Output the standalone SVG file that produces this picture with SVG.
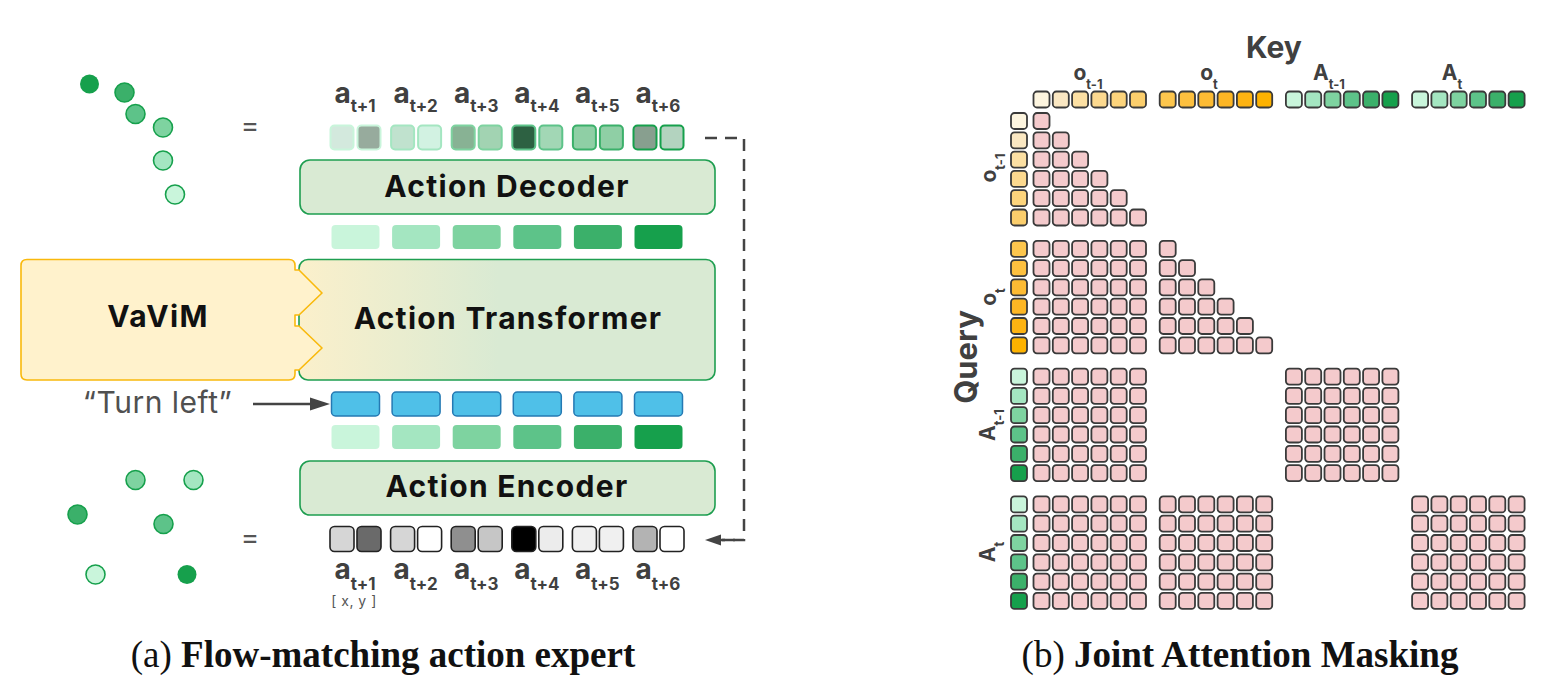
<svg xmlns="http://www.w3.org/2000/svg" width="1568" height="680" viewBox="0 0 1568 680">
<style>
.sans{font-family:Inter,"Noto Sans","Liberation Sans",sans-serif}
.ttl{font-family:Inter,"Noto Sans","Liberation Sans",sans-serif;font-weight:700;font-size:30px;letter-spacing:1.3px;fill:#111;text-anchor:middle}
.lbl{font-family:Inter,"Noto Sans","Liberation Sans",sans-serif;font-weight:700;fill:#404040;text-anchor:middle}
.cap{font-family:"Liberation Serif","Times New Roman",serif;font-size:37px;fill:#111;text-anchor:middle}
.gbox{fill:#d9ead3;stroke:#1e9e50;stroke-width:1.6}
.k{stroke:#3a3a3a;stroke-width:1.8}
.pk{fill:#f4cacc;stroke:#3a3a3a;stroke-width:1.8}
.bw{stroke:#222;stroke-width:1.6}
.dot{stroke:#16a04c;stroke-width:1.6}
.blue{fill:#4fc0e8;stroke:#2479b3;stroke-width:1.5}
</style>
<defs>
<linearGradient id="tg" x1="0" x2="1" y1="0" y2="0">
<stop offset="0" stop-color="#fbf0cb"/>
<stop offset="0.48" stop-color="#d9ead3"/>
</linearGradient>
<rect id="pc" class="pk" width="16" height="16" rx="3.5"/>
<g id="row6">
<use href="#pc" x="0"/><use href="#pc" x="19.3"/><use href="#pc" x="38.6"/><use href="#pc" x="57.9"/><use href="#pc" x="77.2"/><use href="#pc" x="96.5"/>
</g>
<g id="blk">
<use href="#row6" y="0"/><use href="#row6" y="19.3"/><use href="#row6" y="38.6"/><use href="#row6" y="57.9"/><use href="#row6" y="77.2"/><use href="#row6" y="96.5"/>
</g>
<g id="tri">
<use href="#pc" x="0" y="0"/>
<use href="#pc" x="0" y="19.3"/><use href="#pc" x="19.3" y="19.3"/>
<use href="#pc" x="0" y="38.6"/><use href="#pc" x="19.3" y="38.6"/><use href="#pc" x="38.6" y="38.6"/>
<use href="#pc" x="0" y="57.9"/><use href="#pc" x="19.3" y="57.9"/><use href="#pc" x="38.6" y="57.9"/><use href="#pc" x="57.9" y="57.9"/>
<use href="#pc" x="0" y="77.2"/><use href="#pc" x="19.3" y="77.2"/><use href="#pc" x="38.6" y="77.2"/><use href="#pc" x="57.9" y="77.2"/><use href="#pc" x="77.2" y="77.2"/>
<use href="#row6" y="96.5"/>
</g>
</defs>

<!-- ===== Panel (a) ===== -->
<g id="dots-top">
<circle cx="89.5" cy="84" r="9.5" fill="#16a04c"/>
<circle class="dot" cx="124.5" cy="92.5" r="9.5" fill="#3bb06a"/>
<circle class="dot" cx="135.5" cy="114" r="9.5" fill="#5dc389"/>
<circle class="dot" cx="163" cy="127.5" r="9.5" fill="#7ed3a0"/>
<circle class="dot" cx="163" cy="160.5" r="9.5" fill="#a4e6c1"/>
<circle class="dot" cx="175" cy="194.5" r="9.5" fill="#c9f5db"/>
</g>
<text class="sans" x="250" y="135" font-size="28" fill="#555" text-anchor="middle">=</text>

<g id="dots-bottom">
<circle class="dot" cx="135.5" cy="480" r="9.5" fill="#7ed3a0"/>
<circle class="dot" cx="193.5" cy="480" r="9.5" fill="#a4e6c1"/>
<circle class="dot" cx="77.5" cy="514.5" r="9.5" fill="#3bb06a"/>
<circle class="dot" cx="163.5" cy="524" r="9.5" fill="#5dc389"/>
<circle class="dot" cx="95.5" cy="574.5" r="9.5" fill="#c9f5db"/>
<circle cx="187" cy="574.5" r="9.5" fill="#16a04c"/>
</g>
<text class="sans" x="250" y="547" font-size="28" fill="#555" text-anchor="middle">=</text>

<g id="top-labels">
<text class="lbl" x="355" y="103" font-size="28">a<tspan dy="9" font-size="17">t+1</tspan></text>
<text class="lbl" x="415.6" y="103" font-size="28">a<tspan dy="9" font-size="17">t+2</tspan></text>
<text class="lbl" x="476.2" y="103" font-size="28">a<tspan dy="9" font-size="17">t+3</tspan></text>
<text class="lbl" x="536.8" y="103" font-size="28">a<tspan dy="9" font-size="17">t+4</tspan></text>
<text class="lbl" x="597.4" y="103" font-size="28">a<tspan dy="9" font-size="17">t+5</tspan></text>
<text class="lbl" x="658" y="103" font-size="28">a<tspan dy="9" font-size="17">t+6</tspan></text>
</g>

<g id="top-tokens" stroke-width="2">
<rect x="330.5" y="125.5" width="23" height="24" rx="4" fill="#d3e9dd" stroke="#c9f5db"/>
<rect x="357.5" y="125.5" width="23" height="24" rx="4" fill="#97ab9d" stroke="#c9f5db"/>
<rect x="391.1" y="125.5" width="23" height="24" rx="4" fill="#c0e2ce" stroke="#a4e6c1"/>
<rect x="418.1" y="125.5" width="23" height="24" rx="4" fill="#d2f2e2" stroke="#a4e6c1"/>
<rect x="451.7" y="125.5" width="23" height="24" rx="4" fill="#88b294" stroke="#7ed3a0"/>
<rect x="478.7" y="125.5" width="23" height="24" rx="4" fill="#a2d3b2" stroke="#7ed3a0"/>
<rect x="512.3" y="125.5" width="23" height="24" rx="4" fill="#2d6142" stroke="#5dc389"/>
<rect x="539.3" y="125.5" width="23" height="24" rx="4" fill="#a2d7b5" stroke="#5dc389"/>
<rect x="572.9" y="125.5" width="23" height="24" rx="4" fill="#8fcfa5" stroke="#3bb06a"/>
<rect x="599.9" y="125.5" width="23" height="24" rx="4" fill="#8fcfa5" stroke="#3bb06a"/>
<rect x="633.5" y="125.5" width="23" height="24" rx="4" fill="#889f8f" stroke="#16a04c"/>
<rect x="660.5" y="125.5" width="23" height="24" rx="4" fill="#b3d3bf" stroke="#16a04c"/>
</g>

<g id="action-decoder">
<rect class="gbox" x="300" y="160" width="415" height="54" rx="10"/>
<text class="ttl" x="507" y="197">Action Decoder</text>
</g>

<g id="mid-tokens-1">
<rect x="331.5" y="225" width="48" height="24" rx="4" fill="#c9f5db"/>
<rect x="392.1" y="225" width="48" height="24" rx="4" fill="#a4e6c1"/>
<rect x="452.7" y="225" width="48" height="24" rx="4" fill="#7ed3a0"/>
<rect x="513.3" y="225" width="48" height="24" rx="4" fill="#5dc389"/>
<rect x="573.9" y="225" width="48" height="24" rx="4" fill="#3bb06a"/>
<rect x="634.5" y="225" width="48" height="24" rx="4" fill="#16a04c"/>
</g>

<g id="action-transformer">
<rect x="299" y="259.5" width="416" height="120.5" rx="9" fill="url(#tg)" stroke="#1e9e50" stroke-width="1.6"/>
<text class="ttl" x="508" y="329">Action Transformer</text>
</g>

<g id="vavim">
<path d="M27,259.5 H289 Q295,259.5 295,265.5 V270 H299 L322,293 L299,315 H295 V326 H299 L322,348 L299,370 H295 V374 Q295,380 289,380 H27 Q21,380 21,374 V265.5 Q21,259.5 27,259.5 Z" fill="#fff2cc" stroke="#f9b90c" stroke-width="1.6" stroke-linejoin="round"/>
<text class="ttl" x="158" y="327">VaViM</text>
</g>

<g id="turn-left">
<text class="sans" x="157.5" y="413" font-size="30" fill="#505050" text-anchor="middle" letter-spacing="0.5">“Turn left”</text>
</g>

<g id="blue-tokens">
<rect class="blue" x="331.5" y="392" width="48" height="24" rx="4"/>
<rect class="blue" x="392.1" y="392" width="48" height="24" rx="4"/>
<rect class="blue" x="452.7" y="392" width="48" height="24" rx="4"/>
<rect class="blue" x="513.3" y="392" width="48" height="24" rx="4"/>
<rect class="blue" x="573.9" y="392" width="48" height="24" rx="4"/>
<rect class="blue" x="634.5" y="392" width="48" height="24" rx="4"/>
</g>

<g id="mid-tokens-2">
<rect x="331.5" y="425" width="48" height="24" rx="4" fill="#c9f5db"/>
<rect x="392.1" y="425" width="48" height="24" rx="4" fill="#a4e6c1"/>
<rect x="452.7" y="425" width="48" height="24" rx="4" fill="#7ed3a0"/>
<rect x="513.3" y="425" width="48" height="24" rx="4" fill="#5dc389"/>
<rect x="573.9" y="425" width="48" height="24" rx="4" fill="#3bb06a"/>
<rect x="634.5" y="425" width="48" height="24" rx="4" fill="#16a04c"/>
</g>

<g id="action-encoder">
<rect class="gbox" x="300" y="461" width="415" height="54" rx="10"/>
<text class="ttl" x="507" y="497">Action Encoder</text>
</g>

<g id="bottom-tokens">
<rect class="bw" x="330" y="526.5" width="24" height="25" rx="4.5" fill="#d6d6d6"/>
<rect class="bw" x="357" y="526.5" width="24" height="25" rx="4.5" fill="#6a6a6a"/>
<rect class="bw" x="390.6" y="526.5" width="24" height="25" rx="4.5" fill="#d6d6d6"/>
<rect class="bw" x="417.6" y="526.5" width="24" height="25" rx="4.5" fill="#ffffff"/>
<rect class="bw" x="451.2" y="526.5" width="24" height="25" rx="4.5" fill="#8f8f8f"/>
<rect class="bw" x="478.2" y="526.5" width="24" height="25" rx="4.5" fill="#c6c6c6"/>
<rect class="bw" x="511.8" y="526.5" width="24" height="25" rx="4.5" fill="#000000"/>
<rect class="bw" x="538.8" y="526.5" width="24" height="25" rx="4.5" fill="#ececec"/>
<rect class="bw" x="572.4" y="526.5" width="24" height="25" rx="4.5" fill="#f0f0f0"/>
<rect class="bw" x="599.4" y="526.5" width="24" height="25" rx="4.5" fill="#f0f0f0"/>
<rect class="bw" x="633" y="526.5" width="24" height="25" rx="4.5" fill="#b3b3b3"/>
<rect class="bw" x="660" y="526.5" width="24" height="25" rx="4.5" fill="#ffffff"/>
</g>

<g id="bottom-labels">
<text class="lbl" x="355" y="579" font-size="28">a<tspan dy="11" font-size="17">t+1</tspan></text>
<text class="lbl" x="415.6" y="579" font-size="28">a<tspan dy="11" font-size="17">t+2</tspan></text>
<text class="lbl" x="476.2" y="579" font-size="28">a<tspan dy="11" font-size="17">t+3</tspan></text>
<text class="lbl" x="536.8" y="579" font-size="28">a<tspan dy="11" font-size="17">t+4</tspan></text>
<text class="lbl" x="597.4" y="579" font-size="28">a<tspan dy="11" font-size="17">t+5</tspan></text>
<text class="lbl" x="658" y="579" font-size="28">a<tspan dy="11" font-size="17">t+6</tspan></text>
<text class="sans" x="354" y="606" font-size="14" fill="#555" text-anchor="middle" letter-spacing="0.5">[ x, y ]</text>
</g>

<g id="connectors">
<line x1="253" y1="404" x2="312" y2="404" stroke="#444" stroke-width="2.5"/>
<path d="M310,397.5 L330,404 L310,410.5 Z" fill="#444"/>
<path d="M705,138 H744 V540 H722" fill="none" stroke="#444" stroke-width="2.5" stroke-dasharray="12 8"/>
<path d="M721,534.5 L705,540 L721,545.5 Z" fill="#444"/>
<line x1="719" y1="540" x2="735" y2="540" stroke="#444" stroke-width="2.5"/>
</g>

<text class="cap" x="383" y="667">(a) <tspan font-weight="700">Flow-matching action expert</tspan></text>

<!-- ===== Panel (b) ===== -->
<g id="key-labels">
<text class="lbl" x="1274" y="58" font-size="30">Key</text>
<text class="lbl" x="1088" y="80" font-size="21">o<tspan dy="9" font-size="13">t-1</tspan></text>
<text class="lbl" x="1209" y="80" font-size="21">o<tspan dy="9" font-size="13">t</tspan></text>
<text class="lbl" x="1329" y="80" font-size="21">A<tspan dy="9" font-size="13">t-1</tspan></text>
<text class="lbl" x="1452" y="80" font-size="21">A<tspan dy="9" font-size="13">t</tspan></text>
</g>

<g id="key-row">
<rect class="k" x="1033.5" y="91.5" width="16" height="16" rx="3.5" fill="#fdf5df"/>
<rect class="k" x="1052.8" y="91.5" width="16" height="16" rx="3.5" fill="#fae7c2"/>
<rect class="k" x="1072.1" y="91.5" width="16" height="16" rx="3.5" fill="#fce0a3"/>
<rect class="k" x="1091.4" y="91.5" width="16" height="16" rx="3.5" fill="#fcd98f"/>
<rect class="k" x="1110.7" y="91.5" width="16" height="16" rx="3.5" fill="#fcd47c"/>
<rect class="k" x="1130" y="91.5" width="16" height="16" rx="3.5" fill="#fbce6c"/>
<rect class="k" x="1159.7" y="91.5" width="16" height="16" rx="3.5" fill="#fdc64d"/>
<rect class="k" x="1179" y="91.5" width="16" height="16" rx="3.5" fill="#fdc03f"/>
<rect class="k" x="1198.3" y="91.5" width="16" height="16" rx="3.5" fill="#fdbb33"/>
<rect class="k" x="1217.6" y="91.5" width="16" height="16" rx="3.5" fill="#fdb624"/>
<rect class="k" x="1236.9" y="91.5" width="16" height="16" rx="3.5" fill="#fdb312"/>
<rect class="k" x="1256.2" y="91.5" width="16" height="16" rx="3.5" fill="#fdb200"/>
<rect class="k" x="1285.9" y="91.5" width="16" height="16" rx="3.5" fill="#c9f5db"/>
<rect class="k" x="1305.2" y="91.5" width="16" height="16" rx="3.5" fill="#a4e6c1"/>
<rect class="k" x="1324.5" y="91.5" width="16" height="16" rx="3.5" fill="#7ed3a0"/>
<rect class="k" x="1343.8" y="91.5" width="16" height="16" rx="3.5" fill="#5dc389"/>
<rect class="k" x="1363.1" y="91.5" width="16" height="16" rx="3.5" fill="#3bb06a"/>
<rect class="k" x="1382.4" y="91.5" width="16" height="16" rx="3.5" fill="#16a04c"/>
<rect class="k" x="1412.1" y="91.5" width="16" height="16" rx="3.5" fill="#c9f5db"/>
<rect class="k" x="1431.4" y="91.5" width="16" height="16" rx="3.5" fill="#a4e6c1"/>
<rect class="k" x="1450.7" y="91.5" width="16" height="16" rx="3.5" fill="#7ed3a0"/>
<rect class="k" x="1470" y="91.5" width="16" height="16" rx="3.5" fill="#5dc389"/>
<rect class="k" x="1489.3" y="91.5" width="16" height="16" rx="3.5" fill="#3bb06a"/>
<rect class="k" x="1508.6" y="91.5" width="16" height="16" rx="3.5" fill="#16a04c"/>
</g>

<g id="query-labels">
<text class="lbl" transform="translate(977,357) rotate(-90)" font-size="31">Query</text>
<text class="lbl" transform="translate(996,168) rotate(-90)" font-size="21">o<tspan dy="9" font-size="13">t-1</tspan></text>
<text class="lbl" transform="translate(996,297) rotate(-90)" font-size="21">o<tspan dy="9" font-size="13">t</tspan></text>
<text class="lbl" transform="translate(995,425) rotate(-90)" font-size="21">A<tspan dy="9" font-size="13">t-1</tspan></text>
<text class="lbl" transform="translate(995,552) rotate(-90)" font-size="21">A<tspan dy="9" font-size="13">t</tspan></text>
</g>

<g id="query-col">
<rect class="k" x="1011" y="113" width="16" height="16" rx="3.5" fill="#fdf5df"/>
<rect class="k" x="1011" y="132.3" width="16" height="16" rx="3.5" fill="#fae7c2"/>
<rect class="k" x="1011" y="151.6" width="16" height="16" rx="3.5" fill="#fce0a3"/>
<rect class="k" x="1011" y="170.9" width="16" height="16" rx="3.5" fill="#fcd98f"/>
<rect class="k" x="1011" y="190.2" width="16" height="16" rx="3.5" fill="#fcd47c"/>
<rect class="k" x="1011" y="209.5" width="16" height="16" rx="3.5" fill="#fbce6c"/>
<rect class="k" x="1011" y="240.8" width="16" height="16" rx="3.5" fill="#fdc64d"/>
<rect class="k" x="1011" y="260.1" width="16" height="16" rx="3.5" fill="#fdc03f"/>
<rect class="k" x="1011" y="279.4" width="16" height="16" rx="3.5" fill="#fdbb33"/>
<rect class="k" x="1011" y="298.7" width="16" height="16" rx="3.5" fill="#fdb624"/>
<rect class="k" x="1011" y="318" width="16" height="16" rx="3.5" fill="#fdb312"/>
<rect class="k" x="1011" y="337.3" width="16" height="16" rx="3.5" fill="#fdb200"/>
<rect class="k" x="1011" y="368.6" width="16" height="16" rx="3.5" fill="#c9f5db"/>
<rect class="k" x="1011" y="387.9" width="16" height="16" rx="3.5" fill="#a4e6c1"/>
<rect class="k" x="1011" y="407.2" width="16" height="16" rx="3.5" fill="#7ed3a0"/>
<rect class="k" x="1011" y="426.5" width="16" height="16" rx="3.5" fill="#5dc389"/>
<rect class="k" x="1011" y="445.8" width="16" height="16" rx="3.5" fill="#3bb06a"/>
<rect class="k" x="1011" y="465.1" width="16" height="16" rx="3.5" fill="#16a04c"/>
<rect class="k" x="1011" y="496.4" width="16" height="16" rx="3.5" fill="#c9f5db"/>
<rect class="k" x="1011" y="515.7" width="16" height="16" rx="3.5" fill="#a4e6c1"/>
<rect class="k" x="1011" y="535" width="16" height="16" rx="3.5" fill="#7ed3a0"/>
<rect class="k" x="1011" y="554.3" width="16" height="16" rx="3.5" fill="#5dc389"/>
<rect class="k" x="1011" y="573.6" width="16" height="16" rx="3.5" fill="#3bb06a"/>
<rect class="k" x="1011" y="592.9" width="16" height="16" rx="3.5" fill="#16a04c"/>
</g>

<g id="mask">
<use href="#tri" x="1033.5" y="113"/>
<use href="#blk" x="1033.5" y="240.8"/>
<use href="#tri" x="1159.7" y="240.8"/>
<use href="#blk" x="1033.5" y="368.6"/>
<use href="#blk" x="1285.9" y="368.6"/>
<use href="#blk" x="1033.5" y="496.4"/>
<use href="#blk" x="1159.7" y="496.4"/>
<use href="#blk" x="1412.1" y="496.4"/>
</g>

<text class="cap" x="1240" y="667">(b) <tspan font-weight="700">Joint Attention Masking</tspan></text>
</svg>
